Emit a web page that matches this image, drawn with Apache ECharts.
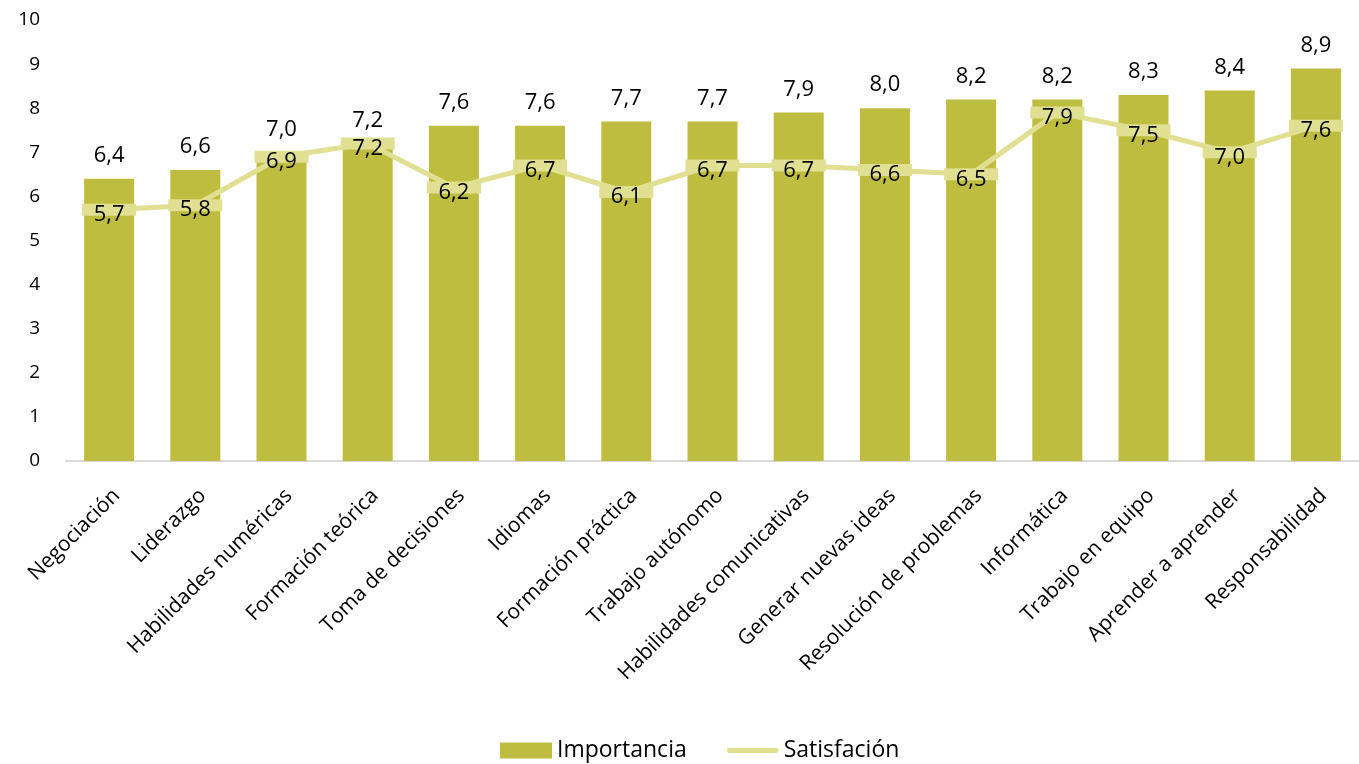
<!DOCTYPE html>
<html>
<head>
<meta charset="utf-8">
<script src="https://cdn.jsdelivr.net/npm/echarts@6/dist/echarts.min.js"></script>
<style>html,body{margin:0;padding:0;background:#fff}#c{width:1359px;height:764px}</style>
</head>
<body>
<div id="c"></div>
<script>
const categories = ['Negociación','Liderazgo','Habilidades numéricas','Formación teórica','Toma de decisiones','Idiomas','Formación práctica','Trabajo autónomo','Habilidades comunicativas','Generar nuevas ideas','Resolución de problemas','Informática','Trabajo en equipo','Aprender a aprender','Responsabilidad'];
const importancia = [6.4,6.6,7.0,7.2,7.6,7.6,7.7,7.7,7.9,8.0,8.2,8.2,8.3,8.4,8.9];
const satisfaccion = [5.7,5.8,6.9,7.2,6.2,6.7,6.1,6.7,6.7,6.6,6.5,7.9,7.5,7.0,7.6];

const FONT = 'Open Sans';
const fmt = p => p.value.toFixed(1).replace('.', ',');
const chart = echarts.init(document.getElementById('c'));
chart.setOption({
  animation: false,
  textStyle: {fontFamily: FONT, color: '#000'},
  grid: {left: 66, right: -19, top: 20, bottom: 303, containLabel: false},
  legend: {
    bottom: -3, left: 495, itemGap: 40, itemWidth: 52, itemHeight: 16,
    textStyle: {fontFamily: FONT, fontSize: 23, color: '#000'},
    data: [
      {name: 'Importancia', icon: 'rect'},
      {name: 'Satisfación', icon: 'path://M2,0 L50,0 A2.5,2.5 0 0 1 50,5 L2,5 A2.5,2.5 0 0 1 2,0 Z'}
    ]
  },
  xAxis: {
    type: 'category', data: categories, boundaryGap: true,
    axisLine: {lineStyle: {color: '#D9D9D9', width: 2}},
    axisTick: {show: false},
    axisLabel: {rotate: 45, interval: 0, fontSize: 21, color: '#000', fontFamily: FONT, margin: 24, verticalAlign: 'top'}
  },
  yAxis: {
    type: 'value', min: 0, max: 10, interval: 1,
    splitLine: {show: false}, axisLine: {show: false}, axisTick: {show: false},
    axisLabel: {fontSize: 19, color: '#000', fontFamily: FONT, margin: 26}
  },
  series: [
    {
      name: 'Importancia', type: 'bar', data: importancia, barWidth: 50,
      itemStyle: {color: '#BFBD3F'},
      label: {show: true, position: 'top', distance: 12, fontSize: 22, color: '#000', fontFamily: FONT, formatter: fmt}
    },
    {
      name: 'Satisfación', type: 'line', data: satisfaccion,
      lineStyle: {color: '#E0DF92', width: 5},
      itemStyle: {color: '#E0DF92'},
      symbol: 'rect', symbolSize: [54, 12],
      label: {show: true, position: 'inside', offset: [0, 5], fontSize: 22, color: '#000', fontFamily: FONT, formatter: fmt}
    }
  ]
});
</script>
</body>
</html>
